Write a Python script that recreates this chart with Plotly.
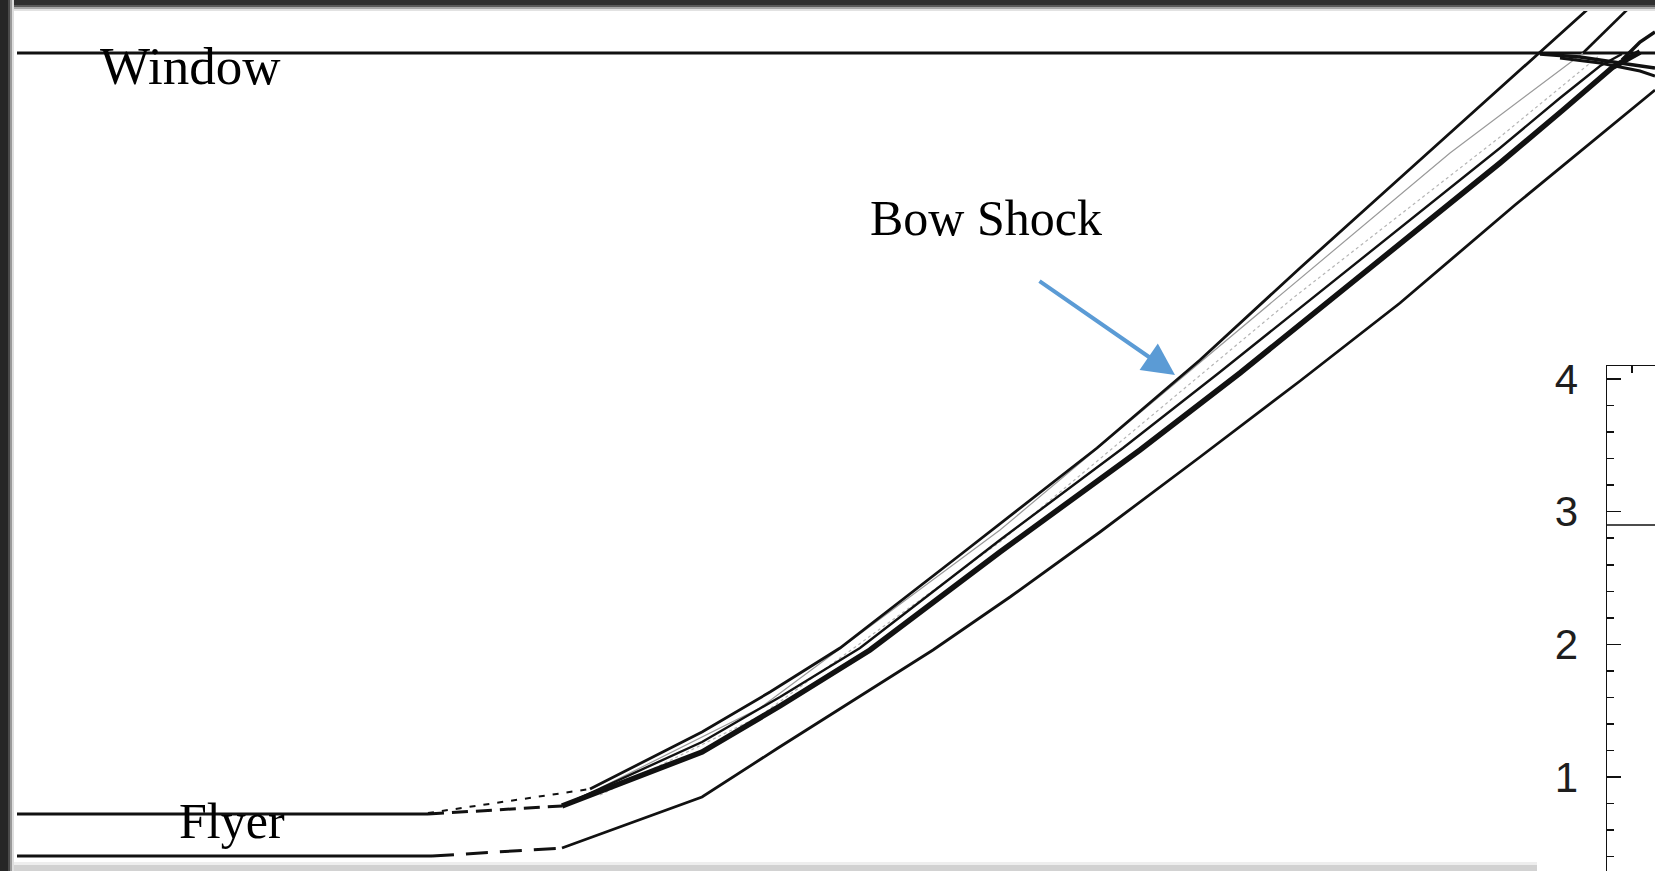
import plotly.graph_objects as go

# ---- data (in image-pixel units: x right, y down) ----
window_x = [17, 1655]
window_y = [53, 53]

flyer_top_solid_x = [17, 428]
flyer_top_solid_y = [814, 814]
flyer_top_dash_x = [428, 562]
flyer_top_dash_y = [814, 806]
flyer_bot_solid_x = [17, 432]
flyer_bot_solid_y = [856, 856]
flyer_bot_dash_x = [432, 562]
flyer_bot_dash_y = [856, 848]

precursor_x = [428, 590]
precursor_y = [813, 789]

top_line_x = [590, 702, 770, 840, 960, 1097, 1200, 1300, 1400, 1500, 1598]
top_line_y = [789, 732, 692, 648, 555, 448, 360, 268, 178, 88, 0]

second_line_x = [562, 702, 780, 860, 1000, 1123, 1220, 1310, 1400, 1500, 1560, 1600, 1622]
second_line_y = [806, 742, 697, 648, 540, 448, 372, 300, 228, 148, 98, 66, 54]

thick_line_x = [562, 702, 780, 870, 1000, 1140, 1240, 1333, 1420, 1500, 1563, 1613, 1640]
thick_line_y = [806, 752, 706, 650, 552, 450, 373, 298, 228, 163, 110, 67, 52]

gray1_x = [600, 760, 1000, 1277, 1450, 1583]
gray1_y = [788, 708, 530, 298, 153, 53]
gray2_x = [600, 760, 1000, 1293, 1500, 1600]
gray2_y = [795, 716, 542, 298, 137, 55]

transmit_x = [1583, 1637]
transmit_y = [53, 0]

lower_line_x = [562, 702, 778, 860, 933, 1010, 1100, 1200, 1300, 1400, 1515, 1655]
lower_line_y = [848, 797, 748, 696, 650, 597, 532, 457, 381, 303, 205, 90]

reflect1_x = [1540, 1580, 1620, 1655]
reflect1_y = [54, 57, 63, 68]
reflect2_x = [1560, 1600, 1640, 1655]
reflect2_y = [58, 63, 71, 76]
corner_x = [1622, 1640, 1655]
corner_y = [60, 42, 32]

inset_ticks = [1, 2, 3, 4]
inset_level_x = [0, 1]
inset_level_y = [2.90, 2.90]

labels = ["Window", "Bow Shock", "Flyer"]

BLACK = "#111111"

fig = go.Figure()


def line(x, y, width=2.5, color=BLACK, dash="solid"):
    fig.add_trace(go.Scatter(x=x, y=y, mode="lines", xaxis="x", yaxis="y",
                             line=dict(color=color, width=width, dash=dash),
                             hoverinfo="skip", showlegend=False))


line(window_x, window_y, 3)
line(flyer_top_solid_x, flyer_top_solid_y, 3)
line(flyer_top_dash_x, flyer_top_dash_y, 3, dash="16px,8px")
line(flyer_bot_solid_x, flyer_bot_solid_y, 3)
line(flyer_bot_dash_x, flyer_bot_dash_y, 3, dash="22px,12px")
line(precursor_x, precursor_y, 2, dash="6px,8px")
line(gray1_x, gray1_y, 1.2, color="#9a9a9a")
line(gray2_x, gray2_y, 1.2, color="#b5b5b5", dash="dot")
line(top_line_x, top_line_y, 2.8)
line(second_line_x, second_line_y, 2.4)
line(thick_line_x, thick_line_y, 5.5)
line(transmit_x, transmit_y, 2.6)
line(lower_line_x, lower_line_y, 2.8)
line(reflect1_x, reflect1_y, 3.5)
line(reflect2_x, reflect2_y, 3)
line(corner_x, corner_y, 3.5)

# inset panel line
fig.add_trace(go.Scatter(x=inset_level_x, y=inset_level_y, mode="lines",
                         xaxis="x2", yaxis="y2",
                         line=dict(color=BLACK, width=1.5),
                         hoverinfo="skip", showlegend=False))

W, H = 1655, 871

# frame (shadowed border of the picture)
shapes = []
def rect(x0, y0, x1, y1, color):
    shapes.append(dict(type="rect", xref="x", yref="y", x0=x0, y0=y0, x1=x1, y1=y1,
                       fillcolor=color, line=dict(width=0), layer="above"))

rect(0, 0, W, 11, "#e2e2e2")
rect(0, 0, W, 9, "#a8a8a8")
rect(0, 0, W, 7, "#5a5a5a")
rect(0, 0, W, 5, "#303030")
rect(0, 862, 1537, H, "#eeeeee")
rect(0, 865, 1537, H, "#d2d2d2")
rect(0, 0, 14, H, "#dedede")
rect(0, 0, 12, H, "#9a9a9a")
rect(0, 0, 10, H, "#4a4a4a")
rect(0, 0, 8, H, "#262626")

# inset y mapping: value 4 at pixel 379, 132.7 px per unit
top_val = 4 + (379 - 366) / 132.7
bot_val = 4 - (H - 379) / 132.7

fig.update_layout(
    width=W, height=H, autosize=False,
    margin=dict(l=0, r=0, t=0, b=0, pad=0, autoexpand=False),
    paper_bgcolor="white", plot_bgcolor="white",
    showlegend=False,
    xaxis=dict(domain=[0, 1], range=[0, W], visible=False, fixedrange=True,
               automargin=False),
    yaxis=dict(domain=[0, 1], range=[H, 0], visible=False, fixedrange=True,
               automargin=False),
    xaxis2=dict(domain=[1607 / W, 1], range=[0, 1], anchor="y2", side="top",
                showline=True, linecolor=BLACK, linewidth=1.5, mirror=False,
                ticks="inside", tickvals=[0.52], ticklen=7, tickwidth=1.5,
                tickcolor=BLACK, showticklabels=False, showgrid=False,
                zeroline=False, fixedrange=True, automargin=False),
    yaxis2=dict(domain=[0, (H - 366) / H], range=[bot_val, top_val], anchor="x2",
                showline=True, linecolor=BLACK, linewidth=1.5,
                ticks="inside", tickvals=inset_ticks, ticklen=14, tickwidth=1.5,
                tickcolor=BLACK, showgrid=False, zeroline=False,
                minor=dict(ticks="inside", dtick=0.2, ticklen=7, tickwidth=1.5,
                           tickcolor=BLACK, showgrid=False),
                ticklabelstandoff=19,
                tickfont=dict(family="Liberation Sans, Arial, sans-serif",
                              size=42, color="#1e1e1e"),
                fixedrange=True, automargin=False),
    shapes=shapes,
)

serif = dict(family="Liberation Serif, Times New Roman, serif", size=50, color="black")
fig.add_annotation(x=98, y=66, xref="x", yref="y", text=labels[0], showarrow=False,
                   xanchor="left", yanchor="middle",
                   font=dict(serif, size=53))
fig.add_annotation(x=868, y=218, xref="x", yref="y", text=labels[1], showarrow=False,
                   xanchor="left", yanchor="middle", font=serif)
fig.add_annotation(x=177, y=821, xref="x", yref="y", text=labels[2], showarrow=False,
                   xanchor="left", yanchor="middle", font=serif)

# blue arrow pointing at the bow shock
fig.add_annotation(x=1175, y=375, xref="x", yref="y",
                   ax=1038, ay=280, axref="x", ayref="y",
                   text="", showarrow=True, arrowhead=2, arrowsize=1.6,
                   arrowwidth=4, arrowcolor="#5b9bd5", standoff=0)

fig.write_html("out.html", config={"displayModeBar": False, "staticPlot": True},
               post_script="document.body.style.margin='0';")
